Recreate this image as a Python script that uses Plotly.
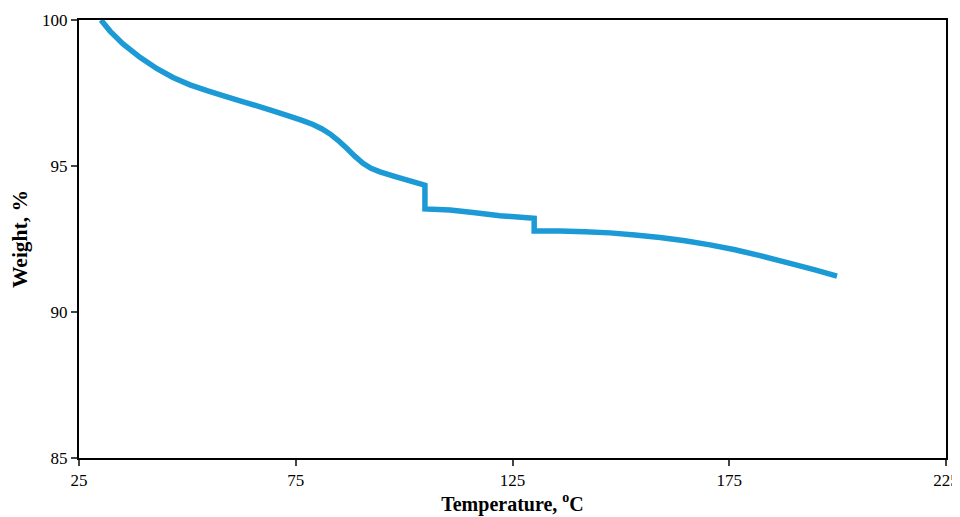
import plotly.graph_objects as go

temperature = [30.07, 32.15, 35.15, 39.07, 43.0, 46.68, 50.6, 54.53, 58.2, 62.14, 66.06, 69.75,
               73.67, 76.44, 78.98, 81.06, 82.9, 84.75, 86.82, 88.67, 90.51, 92.36, 94.43,
               96.28, 98.36, 101.35, 104.35, 104.8, 104.8, 110.6, 116.4, 122.1, 130.0, 130.0,
               135.96, 141.7, 147.49, 153.26, 159.02, 164.79, 170.56, 176.33, 182.1, 189.7,
               194.78, 199.86]
weight = [100.0, 99.62, 99.18, 98.72, 98.33, 98.03, 97.78, 97.58, 97.41, 97.23, 97.06, 96.89,
          96.70, 96.56, 96.42, 96.27, 96.10, 95.88, 95.60, 95.33, 95.09, 94.92, 94.80,
          94.71, 94.62, 94.49, 94.36, 94.34, 93.53, 93.49, 93.40, 93.30, 93.21, 92.77,
          92.77, 92.75, 92.71, 92.64, 92.55, 92.44, 92.30, 92.13, 91.93, 91.64,
          91.44, 91.23]

x_ticks = [25, 75, 125, 175, 225]
y_ticks = [85, 90, 95, 100]

fig = go.Figure()
fig.add_trace(go.Scatter(x=temperature, y=weight, mode="lines",
                         line=dict(color="#1B9AD6", width=5.5, simplify=False),
                         showlegend=False))

font_family = "Liberation Serif, Times New Roman, serif"
# page body has an 8px default margin, so the figure is sized to compensate
fig.update_layout(
    width=952, height=509,
    margin=dict(l=71, r=14, t=12, b=59),
    paper_bgcolor="white", plot_bgcolor="white",
    font=dict(family=font_family, color="black", size=17),
    xaxis=dict(range=[25, 225], tickvals=x_ticks, ticks="outside", ticklen=6, tickwidth=2,
               showline=True, linecolor="black", linewidth=2, mirror=True, showgrid=False,
               zeroline=False, tickfont=dict(size=17), automargin=False,
               title=dict(text="<b>Temperature, <sup>o</sup>C</b>", font=dict(size=20), standoff=4)),
    yaxis=dict(range=[85, 100], tickvals=y_ticks, ticks="outside", ticklen=6, tickwidth=2,
               showline=True, linecolor="black", linewidth=2, mirror=True, showgrid=False,
               zeroline=False, tickfont=dict(size=17), automargin=False,
               title=dict(text="<b>Weight, %</b>", font=dict(size=21.5), standoff=12)),
)
fig.write_html("out.html")
